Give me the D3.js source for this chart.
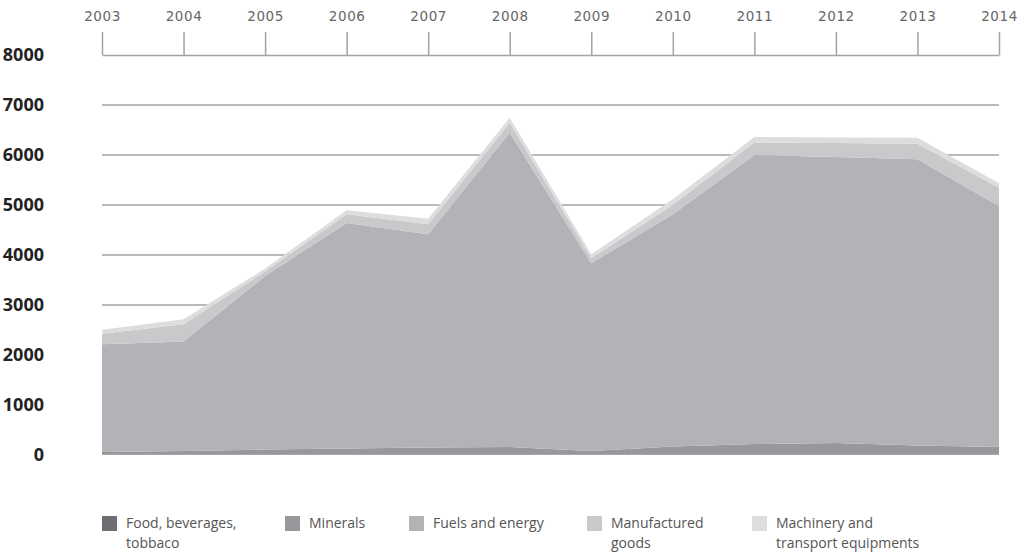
<!DOCTYPE html>
<html>
<head>
<meta charset="utf-8">
<script src="https://cdn.jsdelivr.net/npm/d3@7"></script>
<style>
  body { margin: 0; background: #fff; }
  svg { display: block; }
</style>
</head>
<body>
<div id="chart"></div>
<script>
// values (stacked areas, bottom to top)
const years = [2003, 2004, 2005, 2006, 2007, 2008, 2009, 2010, 2011, 2012, 2013, 2014];
const food = [10, 10, 10, 10, 10, 10, 10, 10, 10, 10, 10, 10];
const minerals = [50, 70, 100, 120, 140, 150, 70, 160, 210, 230, 180, 150];
const fuels = [2154, 2190, 3470, 4510, 4264, 6286, 3754, 4644, 5780, 5720, 5724, 4820];
const manufactured = [210, 345, 90, 175, 200, 200, 100, 190, 250, 280, 312, 366];
const machinery = [80, 100, 60, 80, 110, 100, 80, 110, 110, 110, 120, 90];
const yTicks = [0, 1000, 2000, 3000, 4000, 5000, 6000, 7000, 8000];

const seriesNames = ["Food, beverages, tobbaco", "Minerals", "Fuels and energy", "Manufactured goods", "Machinery and transport equipments"];
const legendLines = [["Food, beverages,", "tobbaco"], ["Minerals"], ["Fuels and energy"], ["Manufactured", "goods"], ["Machinery and", "transport equipments"]];
const colors = ["#6d6e71", "#97989b", "#b2b3b6", "#c8c9cb", "#dcdddf"];

const width = 1018, height = 556;
const keys = ["food", "minerals", "fuels", "manufactured", "machinery"];
const rows = years.map((y, i) => ({
  year: y, food: food[i], minerals: minerals[i], fuels: fuels[i],
  manufactured: manufactured[i], machinery: machinery[i]
}));

const svg = d3.select("#chart").append("svg")
  .attr("width", width)
  .attr("height", height);

const x = d3.scaleLinear().domain([2003, 2014]).range([102, 999]);
const y = d3.scaleLinear().domain([0, 8000]).range([455, 55]);

// grid lines
svg.append("g").selectAll("line")
  .data(yTicks.filter(d => d > 0 && d < 8000))
  .enter().append("line")
  .attr("x1", 102).attr("x2", 999)
  .attr("y1", d => y(d)).attr("y2", d => y(d))
  .attr("stroke", "#a3a3a3")
  .attr("stroke-width", 1.5);

// top axis
const xAxis = d3.axisTop(x)
  .tickValues(years)
  .tickFormat(d3.format("d"))
  .tickSizeInner(23)
  .tickSizeOuter(0)
  .tickPadding(11);

const gx = svg.append("g")
  .attr("transform", "translate(0," + y(8000) + ")")
  .call(xAxis);
gx.select(".domain").attr("stroke", "#a3a3a3").attr("stroke-width", 1.5);
gx.selectAll(".tick line").attr("stroke", "#a3a3a3").attr("stroke-width", 1.5);
gx.selectAll(".tick text")
  .attr("font-family", "DejaVu Sans")
  .attr("font-weight", "normal")
  .attr("font-size", 13.5)
  .attr("letter-spacing", 0.6)
  .attr("fill", "#666");

// y labels
const yAxis = d3.axisLeft(y).tickValues(yTicks).tickFormat(d3.format("d")).tickSize(0).tickPadding(0);
const gy = svg.append("g")
  .attr("transform", "translate(44,0)")
  .call(yAxis);
gy.select(".domain").remove();
gy.selectAll(".tick text")
  .attr("font-family", "Open Sans")
  .attr("font-weight", "bold")
  .attr("font-size", 18)
  .attr("fill", "#222");

// stacked areas
const stack = d3.stack().keys(keys);
const layers = stack(rows);
const area = d3.area()
  .x(d => x(d.data.year))
  .y0(d => y(d[0]))
  .y1(d => y(d[1]));

svg.append("g").selectAll("path")
  .data(layers)
  .enter().append("path")
  .attr("d", area)
  .attr("fill", (d, i) => colors[i]);

// legend
const legendX = [102, 285, 409, 587, 752];
const lg = svg.append("g").selectAll("g")
  .data(seriesNames)
  .enter().append("g")
  .attr("transform", (d, i) => "translate(" + legendX[i] + ",516)");

lg.append("rect")
  .attr("width", 15).attr("height", 15)
  .attr("fill", (d, i) => colors[i]);

lg.append("text")
  .attr("font-family", "Open Sans")
  .attr("font-size", 14)
  .attr("fill", "#555")
  .selectAll("tspan")
  .data((d, i) => legendLines[i])
  .enter().append("tspan")
  .attr("x", 24)
  .attr("y", (d, j) => 12 + j * 20)
  .text(d => d);
</script>
</body>
</html>
